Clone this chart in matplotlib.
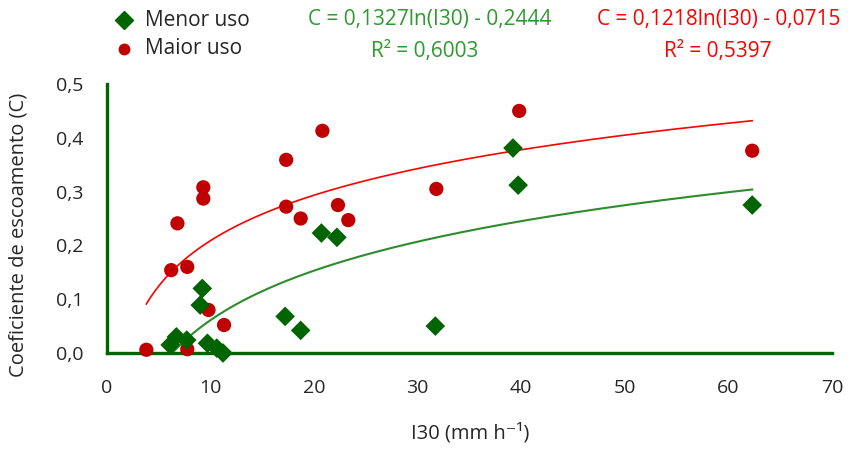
import numpy as np
import matplotlib
matplotlib.use('Agg')
import matplotlib.pyplot as plt

# Menor uso (green diamonds)
menor_x = [6.1, 6.7, 7.7, 9.0, 9.2, 9.7, 10.6, 11.2, 17.2, 18.7, 20.7, 22.2, 31.7, 39.2, 39.7, 62.3]
menor_y = [0.015, 0.030, 0.024, 0.089, 0.120, 0.018, 0.009, 0.000, 0.068, 0.042, 0.223, 0.215, 0.050, 0.381, 0.312, 0.275]

# Maior uso (red circles)
maior_x = [3.8, 6.2, 6.8, 7.75, 7.75, 9.3, 9.3, 9.8, 11.3, 17.3, 17.3, 18.7, 20.8, 22.3, 23.3, 31.8, 39.8, 62.3]
maior_y = [0.006, 0.154, 0.241, 0.160, 0.007, 0.308, 0.287, 0.080, 0.052, 0.359, 0.272, 0.250, 0.413, 0.275, 0.247, 0.305, 0.450, 0.376]

# trend lines C = a ln(I30) + b
menor_fit = (0.1327, -0.2444)
maior_fit = (0.1218, -0.0715)

x_ticks = [0, 10, 20, 30, 40, 50, 60, 70]
y_ticks = [0.0, 0.1, 0.2, 0.3, 0.4, 0.5]

plt.rcParams['font.family'] = ['Open Sans', 'DejaVu Sans']

fig = plt.figure(figsize=(8.65, 4.5), dpi=100)
ax = fig.add_axes([0.1237, 0.2156, 0.9618 - 0.1237, 0.8133 - 0.2156])

dark_green = '#006400'
dark_red = '#C00000'
text_col = '#262626'

xs = np.linspace(min(menor_x), max(menor_x), 300)
ax.plot(xs, menor_fit[0] * np.log(xs) + menor_fit[1], color='#2E8B2E', lw=1.5, zorder=2)
xs = np.linspace(min(maior_x), max(maior_x), 300)
ax.plot(xs, maior_fit[0] * np.log(xs) + maior_fit[1], color='#FF0000', lw=1.2, zorder=2)

ax.scatter(maior_x, maior_y, marker='o', s=105, color=dark_red, edgecolors='none', zorder=3, clip_on=False)
ax.scatter(menor_x, menor_y, marker='D', s=100, color=dark_green, edgecolors='none', zorder=4, clip_on=False)

ax.set_xlim(0, 70)
ax.set_ylim(0, 0.5)
ax.set_xticks(x_ticks)
ax.set_yticks(y_ticks)
ax.set_yticklabels(['{:.1f}'.format(v).replace('.', ',') for v in y_ticks])
ax.tick_params(length=0, labelsize=14, colors=text_col)
ax.tick_params(axis='y', pad=17)
ax.tick_params(axis='x', pad=19)

for side in ['top', 'right']:
    ax.spines[side].set_visible(False)
for side in ['left', 'bottom']:
    ax.spines[side].set_color(dark_green)
    ax.spines[side].set_linewidth(2.4)

fig.text(470 / 865, 1 - 433 / 450, 'I30 (mm h⁻¹)', fontsize=14.5, color=text_col, ha='center', va='center')
fig.text(19 / 865, 1 - 235 / 450, 'Coeficiente de escoamento (C)', fontsize=14.5, color=text_col,
         ha='center', va='center', rotation=90)

# legend, drawn by hand in figure coords
fig.lines.append(plt.Line2D([124 / 865], [1 - 20 / 450], marker='D', color=dark_green, ms=9, ls='none', transform=fig.transFigure))
fig.lines.append(plt.Line2D([124 / 865], [1 - 49 / 450], marker='o', color=dark_red, ms=7.5, ls='none', transform=fig.transFigure))
fig.text(145 / 865, 1 - 20 / 450, 'Menor uso', fontsize=15, va='center', color=text_col)
fig.text(145 / 865, 1 - 49 / 450, 'Maior uso', fontsize=15, va='center', color=text_col)

fig.text(430 / 865, 1 - 20 / 450, 'C = 0,1327ln(I30) - 0,2444', fontsize=15, va='center', ha='center', color='#2E9A2E')
fig.text(425 / 865, 1 - 51 / 450, 'R² = 0,6003', fontsize=15, va='center', ha='center', color='#2E9A2E')
fig.text(719 / 865, 1 - 20 / 450, 'C = 0,1218ln(I30) - 0,0715', fontsize=15, va='center', ha='center', color='#FF0000')
fig.text(718 / 865, 1 - 51 / 450, 'R² = 0,5397', fontsize=15, va='center', ha='center', color='#FF0000')

fig.savefig('out.png', dpi=100)
